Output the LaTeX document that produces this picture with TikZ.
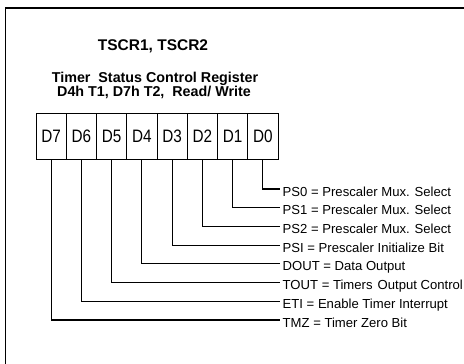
\documentclass[tikz,border=0pt]{standalone}
\usepackage{fontspec}
\setmainfont{Liberation Sans}
\newfontfamily\narrowfont[FakeStretch=0.85]{Liberation Sans}
\begin{document}
\begin{tikzpicture}[x=1pt,y=-1pt,
  frameline/.style={line width=1.4pt},
  cell/.style={draw,line width=0.9pt,minimum width=30.25pt,minimum height=46pt,inner sep=0pt,
    font=\narrowfont\fontsize{18}{18}\selectfont},
  leader/.style={line width=1.1pt},
  lbl/.style={anchor=base west,inner xsep=2.5pt,inner ysep=0pt,font=\fontsize{13.1}{14}\selectfont},
  ttl/.style={anchor=base,inner sep=0pt,font=\bfseries\fontsize{14.3}{15}\selectfont}]
\useasboundingbox (0,0) rectangle (464,364);
% frame (only left and top edges visible)
\coordinate (fb) at (5.5,364);
\coordinate (ftl) at (5.5,8);
\coordinate (ftr) at (464,8);
\draw[frameline] (fb) -- (ftl) -- (ftr);
% titles
\node[ttl,font=\bfseries\fontsize{15.5}{15.5}\selectfont] (t1) at (153,50) {TSCR1, TSCR2};
\node[ttl] (t2) at (155,82) {Timer~~Status Control Register};
\node[ttl] (t3) at (154,96) {D4h T1, D7h T2,~~Read/ Write};
% register cells
\foreach \k in {0,...,7}{
  \node[cell] (c\k) at ({36+30.25*(7-\k)+15.125},136) {D\k};
}
% labels
\node[lbl] (l0) at (280,{189+18.72*0+7.1}) {PS0 = Prescaler Mux. Select};
\node[lbl] (l1) at (280,{189+18.72*1+7.1}) {PS1 = Prescaler Mux. Select};
\node[lbl] (l2) at (280,{189+18.72*2+7.1}) {PS2 = Prescaler Mux. Select};
\node[lbl] (l3) at (280,{189+18.72*3+7.1}) {PSI = Prescaler Initialize Bit};
\node[lbl] (l4) at (280,{189+18.72*4+7.1}) {DOUT = Data Output};
\node[lbl] (l5) at (280,{189+18.72*5+7.1}) {TOUT = Timers\hspace{1.5pt} Output Control};
\node[lbl] (l6) at (280,{189+18.72*6+7.1}) {ETI = Enable Timer Interrupt};
\node[lbl] (l7) at (280,{189+18.72*7+7.1}) {TMZ = Timer Zero Bit};
% leaders
\foreach \k in {0,...,7}{
  \draw[leader] (c\k.south) |- ([yshift=7.1pt]l\k.base west);
}
\end{tikzpicture}
\end{document}
